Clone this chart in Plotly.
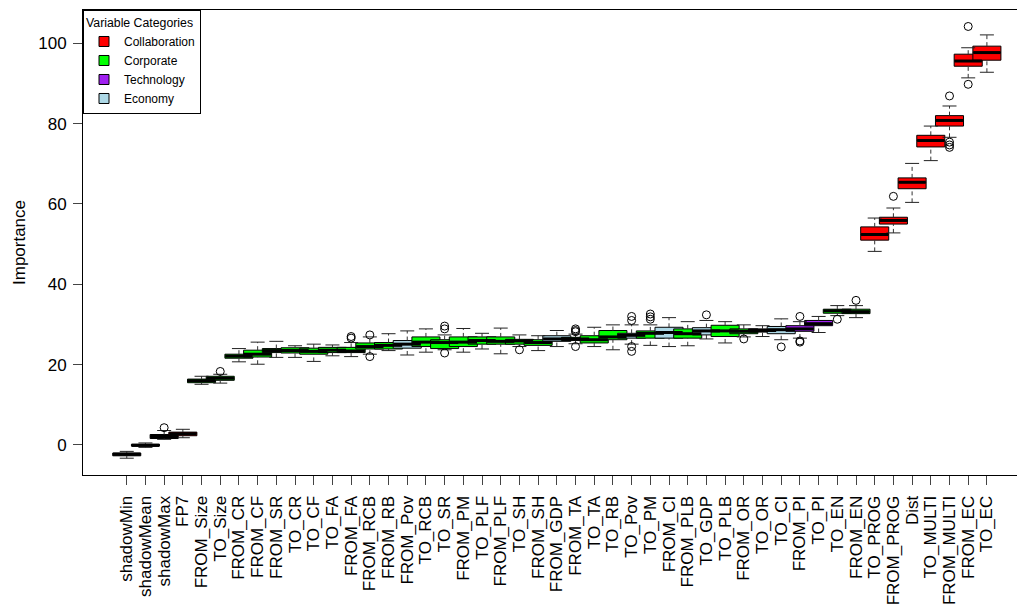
import plotly.graph_objects as go

# Variable names in plotting order
variables = [
    "shadowMin", "shadowMean", "shadowMax", "FP7", "FROM_Size", "TO_Size",
    "FROM_CR", "FROM_CF", "FROM_SR", "TO_CR", "TO_CF", "TO_FA", "FROM_FA",
    "FROM_RCB", "FROM_RB", "FROM_Pov", "TO_RCB", "TO_SR", "FROM_PM", "TO_PLF",
    "FROM_PLF", "TO_SH", "FROM_SH", "FROM_GDP", "FROM_TA", "TO_TA", "TO_RB",
    "TO_Pov", "TO_PM", "FROM_CI", "FROM_PLB", "TO_GDP", "TO_PLB", "FROM_OR",
    "TO_OR", "TO_CI", "FROM_PI", "TO_PI", "TO_EN", "FROM_EN", "TO_PROG",
    "FROM_PROG", "Dist", "TO_MULTI", "FROM_MULTI", "FROM_EC", "TO_EC",
]

# Category of each variable ("Shadow" = random shadow attributes)
category = [
    "Shadow", "Shadow", "Shadow", "Collaboration", "Corporate", "Corporate",
    "Corporate", "Corporate", "Corporate", "Corporate", "Corporate", "Corporate", "Corporate",
    "Corporate", "Corporate", "Economy", "Corporate", "Corporate", "Corporate", "Corporate",
    "Corporate", "Corporate", "Corporate", "Economy", "Corporate", "Corporate", "Corporate",
    "Economy", "Corporate", "Economy", "Corporate", "Economy", "Corporate", "Corporate",
    "Corporate", "Economy", "Technology", "Technology", "Corporate", "Corporate", "Collaboration",
    "Collaboration", "Collaboration", "Collaboration", "Collaboration", "Collaboration", "Collaboration",
]

# Box statistics (importance)
lower_whisker = [
    -3.3, -0.6, 1.4, 1.8, 15.1, 15.4,
    20.7, 20.1, 21.8, 21.8, 20.8, 22.2, 22.0,
    22.6, 23.5, 22.4, 23.1, 23.7, 23.1, 23.9,
    22.7, 24.5, 23.5, 24.5, 25.2, 24.5, 23.7,
    25.1, 24.8, 24.5, 24.7, 26.4, 25.4, 26.9,
    27.0, 26.2, 26.6, 28.0, 32.2, 31.7, 48.2,
    52.8, 60.4, 70.8, 76.6, 91.4, 92.8,
]
q1 = [
    -2.7, -0.3, 1.6, 2.3, 15.5, 16.1,
    21.6, 21.9, 23.0, 22.9, 22.6, 23.0, 23.0,
    23.9, 23.9, 24.1, 24.5, 24.0, 24.5, 25.1,
    25.1, 25.1, 24.8, 25.8, 26.0, 25.4, 26.2,
    26.6, 26.6, 26.6, 26.6, 27.4, 27.0, 27.7,
    28.1, 27.7, 28.3, 29.7, 32.8, 32.7, 51.0,
    55.0, 63.8, 74.2, 79.4, 94.3, 95.8,
]
median = [
    -2.3, -0.1, 2.1, 2.8, 16.0, 16.6,
    22.1, 22.6, 23.5, 23.5, 23.3, 23.6, 23.4,
    24.5, 24.8, 25.1, 25.6, 25.5, 25.6, 26.0,
    25.8, 25.9, 25.5, 26.4, 26.4, 26.2, 26.9,
    27.3, 27.8, 28.0, 27.7, 28.4, 28.4, 28.3,
    28.5, 28.7, 28.9, 30.2, 33.4, 33.2, 52.4,
    55.9, 65.4, 75.8, 80.8, 95.6, 97.7,
]
q3 = [
    -2.0, 0.2, 2.6, 3.2, 16.4, 17.1,
    22.6, 23.6, 24.0, 24.2, 24.1, 24.3, 24.3,
    25.4, 25.5, 26.0, 26.9, 26.2, 26.9, 26.9,
    26.9, 26.3, 26.2, 27.2, 26.8, 27.2, 28.5,
    27.8, 28.4, 29.3, 28.9, 29.2, 29.8, 28.9,
    28.9, 29.5, 29.7, 31.0, 33.8, 33.8, 54.3,
    56.7, 66.5, 77.1, 82.0, 97.3, 99.3,
]
upper_whisker = [
    -1.6, 0.5, 3.6, 3.9, 17.1, 17.6,
    24.0, 25.6, 25.8, 24.7, 25.1, 24.9, 25.5,
    26.9, 27.7, 28.4, 28.9, 27.4, 29.0, 27.8,
    29.1, 27.4, 27.2, 28.5, 27.6, 29.3, 29.9,
    29.9, 29.9, 31.7, 30.7, 31.0, 30.7, 29.9,
    29.7, 31.4, 30.7, 32.0, 34.7, 34.7, 56.5,
    59.0, 70.1, 79.4, 84.4, 98.9, 102.1,
]

# Outlying runs
outlier_var = [
    "shadowMax", "TO_Size", "FROM_FA", "FROM_FA", "FROM_RCB", "FROM_RCB",
    "TO_SR", "TO_SR", "TO_SR", "TO_SH", "FROM_TA", "FROM_TA", "FROM_TA", "FROM_TA",
    "TO_Pov", "TO_Pov", "TO_Pov", "TO_Pov", "TO_PM", "TO_PM", "TO_PM",
    "TO_GDP", "FROM_OR", "TO_CI", "FROM_PI", "FROM_PI", "FROM_PI",
    "TO_EN", "FROM_EN", "FROM_PROG", "FROM_MULTI", "FROM_MULTI", "FROM_MULTI",
    "FROM_MULTI", "FROM_EC", "FROM_EC",
]
outlier_val = [
    4.3, 18.3, 26.6, 27.0, 27.4, 22.0,
    28.9, 29.6, 22.9, 23.7, 28.9, 28.5, 28.2, 24.5,
    32.0, 31.0, 24.5, 23.3, 32.6, 31.9, 31.3,
    32.4, 26.4, 24.4, 32.0, 25.9, 25.6,
    31.3, 36.0, 61.9, 86.9, 75.4, 74.7,
    74.1, 104.2, 89.8,
]

legend_order = ["Collaboration", "Corporate", "Technology", "Economy"]
fill = {
    "Collaboration": "#FF0000",
    "Corporate": "#00FF00",
    "Technology": "#A020F0",
    "Economy": "#ADD8E6",
    "Shadow": "#222222",
}

pos = list(range(1, len(variables) + 1))
pos_of = dict(zip(variables, pos))
BOX_W = 1.5
FONT = "Liberation Sans, Arial, sans-serif"

fig = go.Figure()

# Boxes (one trace per variable so later boxes overlap earlier ones)
for p, cat, a, m, b in zip(pos, category, q1, median, q3):
    fig.add_trace(go.Box(
        x=[p], q1=[a], median=[m], q3=[b], lowerfence=[a], upperfence=[b],
        width=BOX_W, fillcolor=fill[cat], line=dict(color="black", width=1),
        whiskerwidth=0, boxpoints=False, showlegend=False, hoverinfo="skip",
    ))

# Dashed whiskers
wx, wy = [], []
for p, lo, a, b, hi in zip(pos, lower_whisker, q1, q3, upper_whisker):
    wx += [p, p, None, p, p, None]
    wy += [lo, a, None, b, hi, None]
fig.add_trace(go.Scatter(
    x=wx, y=wy, mode="lines", line=dict(color="#333333", width=1, dash="4px,3px"),
    showlegend=False, hoverinfo="skip",
))

# Whisker staples (line-ew symbol length is 1.4 x size)
fig.add_trace(go.Scatter(
    x=pos + pos, y=lower_whisker + upper_whisker, mode="markers",
    marker=dict(symbol="line-ew-open", size=10, color="#222222",
                line=dict(color="#222222", width=1)),
    showlegend=False, hoverinfo="skip",
))

# Thick median bars spanning the box width
fig.add_trace(go.Scatter(
    x=pos, y=median, mode="markers",
    marker=dict(symbol="line-ew-open", size=19.5, color="black",
                line=dict(color="black", width=3)),
    showlegend=False, hoverinfo="skip",
))

# Outliers
fig.add_trace(go.Scatter(
    x=[pos_of[v] for v in outlier_var], y=outlier_val, mode="markers",
    marker=dict(symbol="circle-open", size=8, color="black", line=dict(width=1)),
    showlegend=False, hoverinfo="skip",
))

# Legend entries
for cat in legend_order:
    fig.add_trace(go.Scatter(
        x=[None], y=[None], mode="markers", name=cat,
        marker=dict(symbol="square", size=10, color=fill[cat],
                    line=dict(color="black", width=1)),
    ))

fig.update_layout(
    width=1017, height=605,
    margin=dict(l=83, r=0, t=10, b=130),
    plot_bgcolor="white", paper_bgcolor="white",
    boxmode="overlay",
    font=dict(family=FONT, size=17, color="black"),
    legend=dict(
        x=0, y=1, xanchor="left", yanchor="top",
        bgcolor="white", bordercolor="black", borderwidth=1,
        font=dict(size=12), itemwidth=30,
        title=dict(text="Variable Categories", font=dict(size=12.3)),
        tracegroupgap=0,
    ),
    showlegend=True,
)

fig.update_xaxes(
    range=[-1.34, 48.61],
    tickmode="array", tickvals=pos, ticktext=variables, tickangle=-90,
    ticks="outside", ticklen=9, tickcolor="#444444",
    ticklabelstandoff=4,
    showline=True, mirror=True, linecolor="black", linewidth=1,
    showgrid=False, zeroline=False,
    tickfont=dict(size=17),
)
fig.update_yaxes(
    range=[-7.48, 108.3],
    tickmode="array", tickvals=[0, 20, 40, 60, 80, 100],
    ticks="outside", ticklen=9, tickcolor="#444444",
    ticklabelstandoff=3,
    showline=True, mirror=True, linecolor="black", linewidth=1,
    showgrid=False, zeroline=False,
    tickfont=dict(size=17),
    title=dict(text="Importance", font=dict(size=17), standoff=8),
)

fig.write_html("out.html")
